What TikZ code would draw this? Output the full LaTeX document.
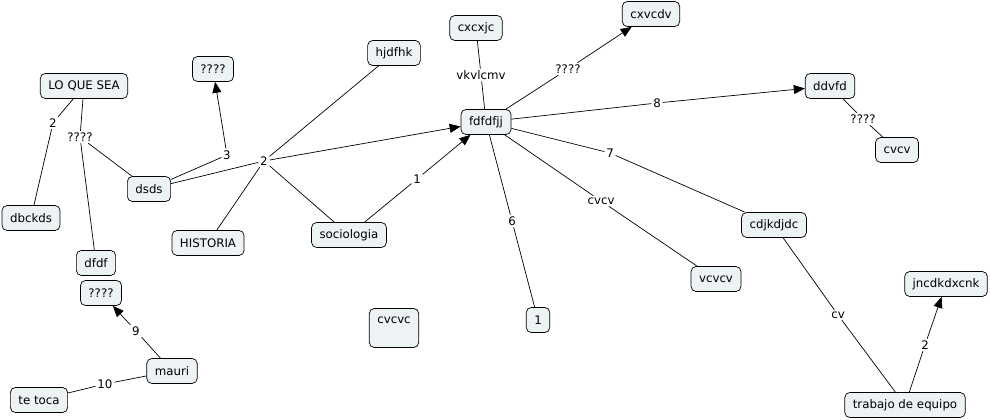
\documentclass[tikz,border=0pt]{standalone}
\usepackage{fontspec}
\setmainfont{DejaVu Sans}
\usetikzlibrary{arrows.meta}
\definecolor{cmapfill}{RGB}{237,242,245}

\begin{document}
\begin{tikzpicture}[x=1pt, y=-1pt, line width=0.7pt, font=\fontsize{11.8}{14}\selectfont,
    main/.style = {draw, fill=cmapfill, rounded corners=5pt, inner xsep=8pt, minimum height=25pt},
    lbl/.style = {inner sep=1.5pt},
    arr/.style = {-{Triangle[length=11pt,width=9pt]}}
    ]
\useasboundingbox (0,0) rectangle (990,420);

\node[main] (0) at (84,86) {LO QUE SEA};
\node[main] (1) at (213,69) {????};
\node[main] (2) at (31,218) {dbckds};
\node[main] (3) at (149,189) {dsds};
\node[main] (4) at (208,243) {HISTORIA};
\node[main] (5) at (96,263) {dfdf};
\node[main] (6) at (101,293) {????};
\node[main] (7) at (172,371) {mauri};
\node[main] (8) at (39,400) {te toca};
\node[main] (9) at (394,53) {hjdfhk};
\node[main] (10) at (476,28) {cxcxjc};
\node[main] (11) at (651,14) {cxvcdv};
\node[main] (12) at (486,122) {fdfdfjj};
\node[main] (13) at (830,86) {ddvfd};
\node[main] (14) at (897,150) {cvcv};
\node[main] (15) at (774,225) {cdjkdjdc};
\node[main] (16) at (349,235) {sociologia};
\node[main, text height=9pt, text depth=18pt, inner ysep=6pt] (17) at (394,328) {cvcvc};
\node[main] (18) at (538,320) {1};
\node[main] (19) at (716,279) {vcvcv};
\node[main] (20) at (946,284) {jncdkdxcnk};
\node[main] (21) at (905,405) {trabajo de equipo};

% linking phrases
\node[lbl] (l0) at (53,123) {2};
\node[lbl] (l1) at (80,137) {????};
\node[lbl] (l2) at (227,155) {3};
\node[lbl] (l3) at (264,161) {2};
\node[lbl] (l4) at (417,179) {1};
\node[lbl] (l5) at (481,75) {vkvlcmv};
\node[lbl] (l6) at (568,69) {????};
\node[lbl] (l7) at (657,103) {8};
\node[lbl] (l8) at (863,119) {????};
\node[lbl] (l9) at (610,153) {7};
\node[lbl] (l10) at (601,201) {cvcv};
\node[lbl] (l11) at (512,221) {6};
\node[lbl] (l12) at (838,315) {cv};
\node[lbl] (l13) at (925,345) {2};
\node[lbl] (l14) at (136,331) {9};
\node[lbl] (l15) at (105,384) {10};

\draw (0) -- (l0);
\draw (l0) -- (2);
\draw (0) -- (l1);
\draw (l1) -- (5);
\draw (l1) -- (3);

\draw (3) -- (l2);
\draw[arr] (l2) -- (1);
\draw (3) -- (l3);
\draw (l3) -- (9);
\draw (l3) -- (4);
\draw (l3) -- (16);
\draw[arr] (l3) -- (12);

\draw (16) -- (l4);
\draw[arr] (l4) -- (12);

\draw (10) -- (l5);
\draw (l5) -- (12);
\draw (12) -- (l6);
\draw[arr] (l6) -- (11);
\draw (12) -- (l7);
\draw[arr] (l7) -- (13);
\draw (13) -- (l8);
\draw (l8) -- (14);
\draw (12) -- (l9);
\draw (l9) -- (15);
\draw (12) -- (l10);
\draw (l10) -- (19);
\draw (12) -- (l11);
\draw (l11) -- (18);

\draw (15) -- (l12);
\draw (l12) -- (21);
\draw (21) -- (l13);
\draw[arr] (l13) -- (20);

\draw (7) -- (l14);
\draw[arr] (l14) -- (6);
\draw (7) -- (l15);
\draw (l15) -- (8);

\end{tikzpicture}
\end{document}
